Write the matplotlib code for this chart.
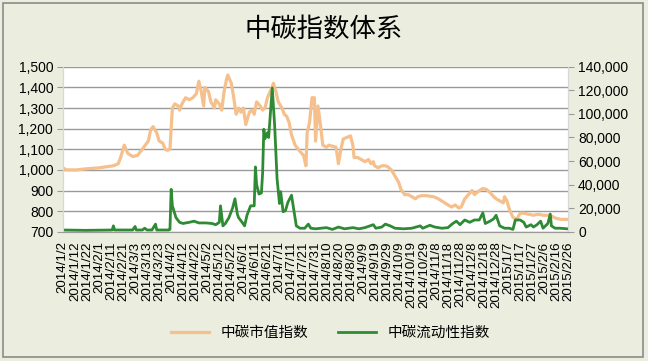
import matplotlib
matplotlib.use('Agg')
import matplotlib.pyplot as plt
import matplotlib.dates as mdates
import matplotlib.ticker as mticker
from matplotlib.patches import Rectangle
import pandas as pd

plt.rcParams['font.family'] = ['Liberation Sans', 'Noto Sans CJK SC']

# 中碳市值指数 (left axis)
cmv_dates = [
    '2014-01-02', '2014-01-05', '2014-01-13', '2014-01-21', '2014-02-01', '2014-02-13',
    '2014-02-17', '2014-02-19', '2014-02-22', '2014-02-25', '2014-03-01', '2014-03-05',
    '2014-03-09', '2014-03-14', '2014-03-16', '2014-03-18', '2014-03-21', '2014-03-23',
    '2014-03-26', '2014-03-28', '2014-03-30', '2014-04-01', '2014-04-03', '2014-04-05',
    '2014-04-08', '2014-04-09', '2014-04-11', '2014-04-14', '2014-04-17', '2014-04-20',
    '2014-04-23', '2014-04-25', '2014-04-27', '2014-04-29', '2014-04-30', '2014-05-03',
    '2014-05-05', '2014-05-08', '2014-05-09', '2014-05-12', '2014-05-14', '2014-05-16',
    '2014-05-18', '2014-05-19', '2014-05-22', '2014-05-24', '2014-05-26', '2014-05-28',
    '2014-05-30', '2014-06-01', '2014-06-03', '2014-06-06', '2014-06-08', '2014-06-10',
    '2014-06-12', '2014-06-15', '2014-06-17', '2014-06-19', '2014-06-21', '2014-06-24',
    '2014-06-26', '2014-06-28', '2014-06-30', '2014-07-03', '2014-07-05', '2014-07-07',
    '2014-07-09', '2014-07-11', '2014-07-14', '2014-07-18', '2014-07-21', '2014-07-23',
    '2014-07-24', '2014-07-26', '2014-07-28', '2014-07-30', '2014-07-31', '2014-08-02',
    '2014-08-04', '2014-08-06', '2014-08-09', '2014-08-11', '2014-08-14', '2014-08-17',
    '2014-08-19', '2014-08-21', '2014-08-23', '2014-08-27', '2014-08-29', '2014-08-31',
    '2014-09-01', '2014-09-04', '2014-09-07', '2014-09-10', '2014-09-13', '2014-09-15',
    '2014-09-17', '2014-09-18', '2014-09-21', '2014-09-24', '2014-09-27', '2014-09-29',
    '2014-10-02', '2014-10-05', '2014-10-08', '2014-10-10', '2014-10-13', '2014-10-16',
    '2014-10-19', '2014-10-22', '2014-10-24', '2014-10-27', '2014-10-31', '2014-11-06',
    '2014-11-10', '2014-11-14', '2014-11-18', '2014-11-21', '2014-11-24', '2014-11-27',
    '2014-11-29', '2014-12-02', '2014-12-05', '2014-12-08', '2014-12-10', '2014-12-13',
    '2014-12-17', '2014-12-20', '2014-12-23', '2014-12-26', '2014-12-28', '2014-12-31',
    '2015-01-03', '2015-01-04', '2015-01-06', '2015-01-08', '2015-01-11', '2015-01-14',
    '2015-01-17', '2015-01-20', '2015-01-24', '2015-01-28', '2015-02-01', '2015-02-05',
    '2015-02-11', '2015-02-14', '2015-02-16', '2015-02-20', '2015-02-25',
]
cmv_values = [
    1010, 1000, 1000, 1005, 1010, 1020,
    1030, 1060, 1120, 1080, 1065, 1070,
    1100, 1140, 1195, 1210, 1180, 1140,
    1130, 1100, 1095, 1100, 1300, 1320,
    1310, 1290, 1320, 1350, 1340, 1350,
    1370, 1430, 1380, 1310, 1400, 1380,
    1330, 1300, 1340, 1320, 1290, 1380,
    1440, 1460, 1420, 1350, 1270, 1300,
    1280, 1300, 1220, 1280, 1290, 1270,
    1330, 1310, 1290, 1300, 1350, 1390,
    1420, 1380, 1330, 1300, 1270, 1260,
    1230, 1170, 1120, 1090, 1070, 1020,
    1180, 1230, 1350, 1350, 1140, 1310,
    1220, 1120, 1110, 1120, 1115, 1110,
    1030, 1100, 1150, 1160, 1165, 1120,
    1060, 1060, 1050, 1040, 1050, 1030,
    1040, 1020, 1010, 1020, 1020, 1015,
    1000, 970, 940, 905, 880, 880,
    870, 860, 870, 875, 875, 870,
    860, 845, 830, 820, 830, 815,
    820, 860, 880, 900, 880, 895,
    910, 905, 890, 870, 860, 850,
    840, 870, 850, 810, 770, 760,
    790, 790, 785, 780, 785, 780,
    780, 770, 765, 760, 760,
]

# 中碳流动性指数 (right axis)
liq_dates = [
    '2014-01-02', '2014-01-21', '2014-02-12', '2014-02-13', '2014-02-14', '2014-03-01',
    '2014-03-03', '2014-03-04', '2014-03-09', '2014-03-11', '2014-03-13', '2014-03-17',
    '2014-03-20', '2014-03-21', '2014-03-31', '2014-04-01', '2014-04-02', '2014-04-03',
    '2014-04-06', '2014-04-09', '2014-04-12', '2014-04-14', '2014-04-17', '2014-04-21',
    '2014-04-25', '2014-05-01', '2014-05-06', '2014-05-09', '2014-05-12', '2014-05-13',
    '2014-05-15', '2014-05-17', '2014-05-20', '2014-05-23', '2014-05-25', '2014-05-27',
    '2014-05-28', '2014-05-31', '2014-06-02', '2014-06-04', '2014-06-07', '2014-06-10',
    '2014-06-11', '2014-06-12', '2014-06-14', '2014-06-16', '2014-06-17', '2014-06-18',
    '2014-06-19', '2014-06-21', '2014-06-22', '2014-06-25', '2014-06-27', '2014-06-29',
    '2014-07-01', '2014-07-02', '2014-07-04', '2014-07-06', '2014-07-08', '2014-07-11',
    '2014-07-13', '2014-07-15', '2014-07-18', '2014-07-22', '2014-07-25', '2014-07-27',
    '2014-07-31', '2014-08-09', '2014-08-14', '2014-08-19', '2014-08-24', '2014-08-31',
    '2014-09-05', '2014-09-10', '2014-09-17', '2014-09-19', '2014-09-24', '2014-09-27',
    '2014-10-01', '2014-10-05', '2014-10-12', '2014-10-19', '2014-10-26', '2014-10-28',
    '2014-11-03', '2014-11-07', '2014-11-13', '2014-11-18', '2014-11-22', '2014-11-25',
    '2014-11-28', '2014-12-02', '2014-12-06', '2014-12-10', '2014-12-14', '2014-12-17',
    '2014-12-19', '2014-12-23', '2014-12-26', '2014-12-28', '2014-12-31', '2015-01-04',
    '2015-01-08', '2015-01-11', '2015-01-13', '2015-01-17', '2015-01-20', '2015-01-22',
    '2015-01-26', '2015-01-28', '2015-01-31', '2015-02-03', '2015-02-05', '2015-02-09',
    '2015-02-11', '2015-02-12', '2015-02-15', '2015-02-19', '2015-02-25',
]
liq_values = [
    1500, 1200, 1500, 5000, 1500, 1500,
    4500, 1500, 1500, 3000, 1500, 1500,
    6500, 1500, 1500, 2000, 36000, 22000,
    12000, 8000, 7000, 7500, 8000, 9000,
    7500, 7500, 7000, 6000, 8000, 22000,
    5000, 7000, 12000, 20000, 28000, 15000,
    12000, 8000, 5000, 14000, 22000, 22000,
    55000, 40000, 32000, 33000, 50000, 87000,
    79000, 84000, 80000, 122000, 90000, 45000,
    24000, 34000, 17000, 18000, 25000, 31000,
    18000, 5000, 3000, 3000, 6500, 3000,
    2500, 3500, 2000, 4000, 2500, 3500,
    2500, 3500, 6000, 3000, 4000, 6500,
    5000, 3000, 2500, 3000, 5000, 3000,
    5500, 4000, 3000, 3500, 7000, 9000,
    6000, 10000, 8000, 10000, 10000, 16000,
    7000, 9000, 11000, 14000, 5000, 3000,
    3000, 2000, 10000, 10000, 8000, 4000,
    6000, 4000, 6000, 9000, 3000, 7000,
    15000, 5000, 3000, 3000, 2500,
]

bg = '#ebeedf'
fig = plt.figure(figsize=(6.48, 3.61), dpi=100, facecolor=bg)
fig.patches.append(Rectangle((0.005, 0.012), 0.987, 0.98, transform=fig.transFigure,
                             fill=False, edgecolor='#8c8c8c', linewidth=1.2))

ax = fig.add_axes([0.097, 0.358, 0.780, 0.457])
ax.set_facecolor('white')
ax2 = ax.twinx()

l1, = ax.plot(pd.to_datetime(cmv_dates), cmv_values, color='#f5c08c', lw=2.3,
              label='中碳市值指数')
l2, = ax2.plot(pd.to_datetime(liq_dates), liq_values, color='#2f8a34', lw=2.0,
               label='中碳流动性指数')

ax.set_ylim(700, 1500)
ax.set_yticks(range(700, 1501, 100))
ax2.set_ylim(0, 140000)
ax2.set_yticks(range(0, 140001, 20000))
ax.yaxis.set_major_formatter(mticker.StrMethodFormatter('{x:,.0f}'))
ax2.yaxis.set_major_formatter(mticker.StrMethodFormatter('{x:,.0f}'))

ticks = pd.date_range('2014-01-02', '2015-02-26', freq='10D')
ax.set_xlim(ticks[0], ticks[-1])
ax.set_xticks(ticks)
ax.xaxis.set_major_formatter(mticker.FuncFormatter(
    lambda v, p: '{0.year}/{0.month}/{0.day}'.format(mdates.num2date(v))))
ax.tick_params(axis='x', rotation=90, labelsize=9.6, length=0, pad=7)
ax.tick_params(axis='y', labelsize=10, length=4, color='#999999', pad=3)
ax2.tick_params(axis='y', labelsize=10, length=4, color='#999999', pad=3)

ax.grid(axis='y', color='#9a9a9a', lw=1)
ax.set_axisbelow(True)
for a in (ax, ax2):
    a.spines['top'].set_visible(False)
    for s in ('left', 'right'):
        a.spines[s].set_color('#d8d8d8')
    a.spines['bottom'].set_color('#9a9a9a')

fig.text(0.5, 0.917, '中碳指数体系', ha='center', va='center', fontsize=19)
fig.legend(handles=[l1, l2], loc='center', bbox_to_anchor=(0.51, 0.078), ncol=2,
           frameon=False, fontsize=10.5, handlelength=2.6, columnspacing=2.0)

fig.savefig('out.png', dpi=100, facecolor=bg)
